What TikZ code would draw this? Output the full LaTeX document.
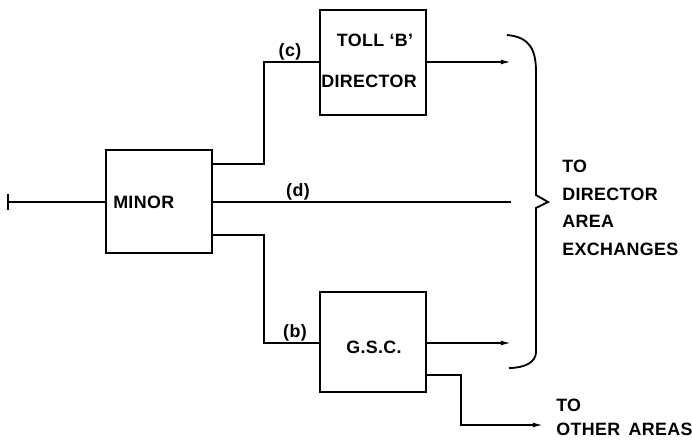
\documentclass[tikz,border=0pt]{standalone}
\usepackage{fontspec}
\setmainfont{Liberation Sans}[LetterSpace=2]
\usetikzlibrary{arrows.meta,positioning}

\begin{document}
\begin{tikzpicture}[
  x=0.025cm,
  y=-0.025cm,
  blk/.style={draw,line width=1.3pt,inner sep=0pt},
  lbl/.style={font=\fontsize{12.7}{14}\selectfont\bfseries,inner sep=0pt},
  wire/.style={line width=1.3pt},
  sig/.style={wire,-{Latex[length=8pt,width=3.5pt]}}
]
\useasboundingbox (0,0) rectangle (692,442);

% blocks
\node[blk,minimum width=106*0.025cm,minimum height=103*0.025cm] (minor) at (159,201.5) {};
\node[blk,minimum width=106*0.025cm,minimum height=105*0.025cm] (toll) at (373,62.5) {};
\node[blk,minimum width=106*0.025cm,minimum height=100*0.025cm] (gsc) at (373,342) {};

\node[lbl,anchor=west] (minortxt) at (113,202) {MINOR};
\node[lbl] (tolltxt) at (375,40) {TOLL ‘B’};
\node[lbl] (dirtxt) at (369,81) {DIRECTOR};
\node[lbl] (gsctxt) at (374,347) {G.S.C.};

% junction points
\coordinate (in) at (8,202);
\coordinate (cA) at (212,164);
\coordinate (cB) at (264,164);
\coordinate (cC) at (264,62);
\coordinate (bA) at (212,235);
\coordinate (bB) at (264,235);
\coordinate (bC) at (264,343);
\coordinate (dA) at (212,202);
\coordinate (dB) at (511,202);
\coordinate (tollout) at (512,62);
\coordinate (gscout) at (512,343);
\coordinate (oA) at (426,375);
\coordinate (oB) at (461,375);
\coordinate (oC) at (461,425);
\coordinate (oD) at (544,425);

% connectors
\draw[wire] (in) -- (minor.west |- in);
\draw[wire] ([yshift=-6pt]in) -- ([yshift=6pt]in);
\draw[wire] (cA) -- (cB) -- (cC) -- (toll.west |- cC);
\draw[wire] (bA) -- (bB) -- (bC) -- (gsc.west |- bC);
\draw[wire] (dA) -- (dB);
\draw[sig] (toll.east |- tollout) -- (tollout);
\draw[sig] (gsc.east |- gscout) -- (gscout);
\draw[sig] (oA) -- (oB) -- (oC) -- (oD);

% brace
\draw[wire] (507,35) .. controls (530,37) and (536,50) .. (536,72)
  -- (536,195) -- (548,202) -- (536,208) -- (536,352)
  .. controls (536,362) and (525,368) .. (509,368);

% labels
\node[lbl] (clbl) at (290,52) {(c)};
\node[lbl] (dlbl) at (298,192) {(d)};
\node[lbl] (blbl) at (295,333) {(b)};
\node[lbl,anchor=north west,align=left,font=\fontsize{12.7}{19.6}\selectfont\bfseries] (dirarea) at (562,160) {TO\\DIRECTOR\\AREA\\EXCHANGES};
\node[lbl,anchor=north west,align=left,font=\fontsize{12.7}{17}\selectfont\bfseries] (other) at (556,399) {TO\\OTHER\hspace{6pt}AREAS};
\end{tikzpicture}
\end{document}
